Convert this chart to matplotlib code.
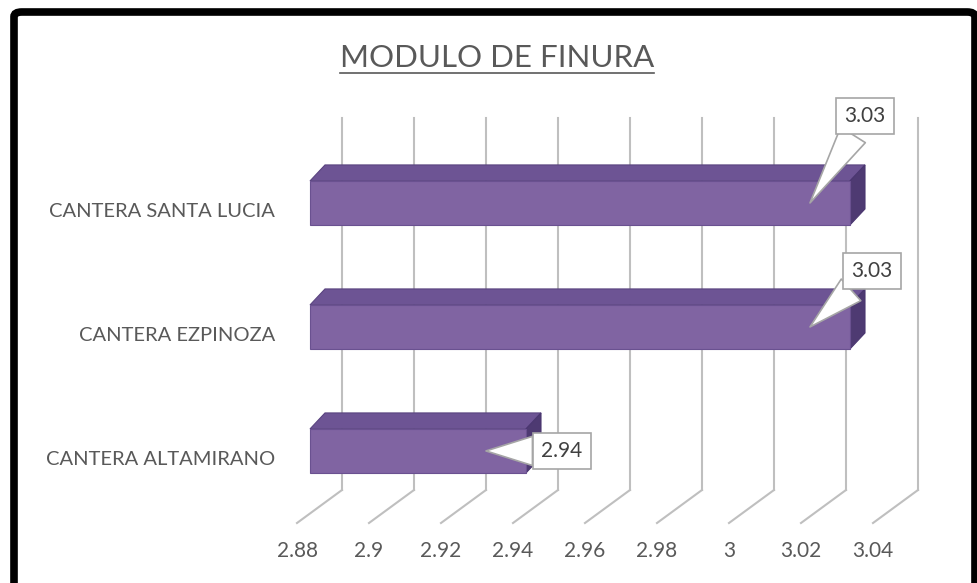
import matplotlib.pyplot as plt
from matplotlib.patches import Rectangle, Polygon, FancyBboxPatch
from matplotlib.lines import Line2D

plt.rcParams['font.family'] = ['Lato', 'DejaVu Sans']

# data
canteras = ['CANTERA ALTAMIRANO', 'CANTERA EZPINOZA', 'CANTERA SANTA LUCIA']
modulo = [2.94, 3.03, 3.03]
ticks = [2.88, 2.9, 2.92, 2.94, 2.96, 2.98, 3, 3.02, 3.04]
tick_labels = ['2.88', '2.9', '2.92', '2.94', '2.96', '2.98', '3', '3.02', '3.04']

W, H = 978, 583
fig = plt.figure(figsize=(W / 100, H / 100), dpi=100)
ax = fig.add_axes([310 / W, (H - 490) / H, 576 / W, 372 / H])
ax.set_xlim(2.88, 3.04)
ax.set_ylim(-0.315, 2.685)
ax.axis('off')

# pixel -> data helpers (axes is linear and fixed)
px = 0.16 / 576
py = 3.0 / 372
ymin = ax.get_ylim()[0]
ymax = ax.get_ylim()[1]

grid_c = '#BFBFBF'
txt_c = '#595959'

# 3d-ish gridlines: back wall + floor
for t, lab in zip(ticks, tick_labels):
    xb = t + 32 * px
    ax.add_line(Line2D([xb, xb], [ymin, ymax], color=grid_c, lw=1.5, zorder=1, clip_on=False))
    ax.add_line(Line2D([xb, t - 13 * px], [ymin, ymin - 33 * py], color=grid_c, lw=1.5, zorder=1, clip_on=False))
    ax.text(t - 13 * px, ymin - 61 * py, lab, ha='center', va='center', fontsize=15, color=txt_c)

# bars
h = 44 * py
dx, dy = 15 * px, 16 * py
base = 2.88
for i, (name, v) in enumerate(zip(canteras, modulo)):
    ax.add_patch(Polygon([(base, i + h / 2), (v, i + h / 2), (v + dx, i + h / 2 + dy), (base + dx, i + h / 2 + dy)],
                         closed=True, fc='#6D5494', ec='#5A4480', lw=0.8, zorder=3, clip_on=False))
    ax.add_patch(Polygon([(v, i - h / 2), (v, i + h / 2), (v + dx, i + h / 2 + dy), (v + dx, i - h / 2 + dy)],
                         closed=True, fc='#4E3A72', ec='#4A3670', lw=0.8, zorder=3, clip_on=False))
    ax.add_patch(Rectangle((base, i - h / 2), v - base, h, fc='#8064A2', ec='#6A5190', lw=0.8,
                           zorder=4, clip_on=False))
    ax.text(base - 35 * px, i - 9 * py, name, ha='right', va='center', fontsize=14.5, color=txt_c)

# callouts
offsets = [(76, 0), (62, 56), (55, 87)]
for i, (v, off) in enumerate(zip(modulo, offsets)):
    ax.annotate(f'{v:.2f}', xy=(v - 40 * px, i), xytext=off, textcoords='offset pixels',
                ha='center', va='center', fontsize=15, color='#404040', zorder=6,
                bbox=dict(boxstyle='square,pad=0.4', fc='white', ec='#A6A6A6', lw=1.2),
                arrowprops=dict(arrowstyle='wedge,tail_width=1.4', fc='white', ec='#A6A6A6', lw=1.2,
                                shrinkA=0, shrinkB=0),
                annotation_clip=False)

# title with underline
title = fig.text(497 / W, 1 - 58 / H, 'MODULO DE FINURA', ha='center', va='center', fontsize=22.5, color=txt_c)
fig.canvas.draw()
bb = title.get_window_extent()
fig.add_artist(Line2D([bb.x0 / W, bb.x1 / W], [(bb.y0 - 1) / H, (bb.y0 - 1) / H], color=txt_c, lw=1.2))

# frame
fig.add_artist(FancyBboxPatch((14 / W, -0.05), (975 - 14) / W, 1.05 - 12 / H,
                              boxstyle='round,pad=0,rounding_size=0.008', transform=fig.transFigure,
                              fc='none', ec='black', lw=5.5))

fig.savefig('out.png', dpi=100)
